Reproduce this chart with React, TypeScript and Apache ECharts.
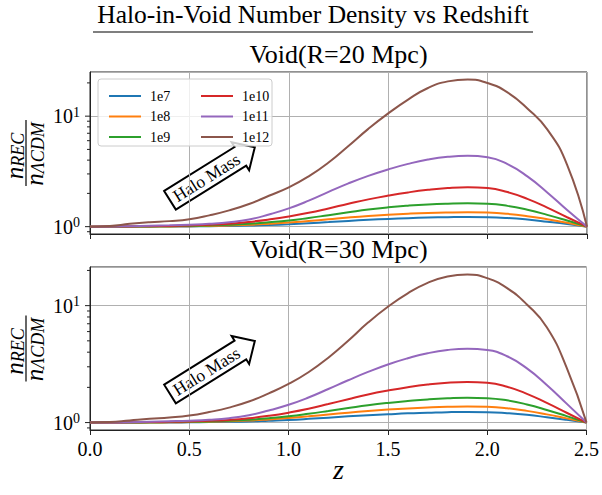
import React, { useEffect, useRef } from "react";
import * as echarts from "echarts";

const Z = [0, 0.1, 0.2, 0.3, 0.4, 0.5, 0.6, 0.7, 0.8, 0.9, 1.0, 1.1, 1.2, 1.3, 1.4, 1.5, 1.6, 1.7, 1.8, 1.9, 2.0, 2.1, 2.2, 2.3, 2.4, 2.5];

// Void R = 20 Mpc
const top1e7 = [1, 1, 1, 1.002, 1.002, 1.005, 1.009, 1.014, 1.023, 1.035, 1.052, 1.074, 1.099, 1.127, 1.153, 1.175, 1.194, 1.208, 1.219, 1.225, 1.219, 1.197, 1.159, 1.109, 1.057, 1];
const top1e8 = [1, 1, 1.002, 1.002, 1.005, 1.009, 1.016, 1.026, 1.04, 1.062, 1.089, 1.125, 1.167, 1.211, 1.25, 1.282, 1.309, 1.33, 1.343, 1.349, 1.34, 1.306, 1.245, 1.167, 1.084, 1];
const top1e9 = [1, 1, 1.002, 1.005, 1.009, 1.016, 1.026, 1.04, 1.062, 1.094, 1.135, 1.197, 1.271, 1.349, 1.429, 1.496, 1.549, 1.589, 1.614, 1.626, 1.611, 1.542, 1.422, 1.279, 1.135, 1];
const top1e10 = [1, 1.002, 1.005, 1.009, 1.016, 1.026, 1.04, 1.064, 1.104, 1.161, 1.236, 1.334, 1.462, 1.611, 1.766, 1.91, 2.042, 2.153, 2.234, 2.27, 2.234, 2.056, 1.786, 1.486, 1.216, 1];
const top1e11 = [1, 1.002, 1.009, 1.019, 1.028, 1.042, 1.062, 1.096, 1.161, 1.288, 1.462, 1.718, 2.065, 2.466, 2.884, 3.296, 3.698, 4.046, 4.285, 4.375, 4.246, 3.681, 2.851, 2.042, 1.413, 1];
const top1e12 = [1, 1.014, 1.06, 1.096, 1.122, 1.167, 1.265, 1.403, 1.603, 1.905, 2.265, 2.851, 3.802, 5.37, 7.674, 10.59, 14.13, 17.99, 20.65, 21.48, 19.95, 16.41, 11.75, 7.59, 3.63, 1];

// Void R = 30 Mpc
const bot1e7 = [1, 1, 1, 1.002, 1.002, 1.005, 1.009, 1.014, 1.023, 1.038, 1.054, 1.076, 1.102, 1.13, 1.156, 1.178, 1.199, 1.213, 1.227, 1.233, 1.227, 1.202, 1.164, 1.112, 1.057, 1];
const bot1e8 = [1, 1, 1.002, 1.002, 1.005, 1.009, 1.016, 1.026, 1.04, 1.064, 1.094, 1.13, 1.172, 1.216, 1.256, 1.291, 1.321, 1.346, 1.365, 1.374, 1.365, 1.327, 1.259, 1.175, 1.086, 1];
const bot1e9 = [1, 1, 1.002, 1.005, 1.009, 1.014, 1.023, 1.035, 1.057, 1.089, 1.132, 1.189, 1.256, 1.33, 1.406, 1.472, 1.528, 1.578, 1.614, 1.633, 1.618, 1.549, 1.429, 1.282, 1.135, 1];
const bot1e10 = [1, 1.002, 1.005, 1.009, 1.014, 1.023, 1.035, 1.054, 1.089, 1.143, 1.216, 1.312, 1.439, 1.585, 1.738, 1.879, 2.009, 2.118, 2.193, 2.223, 2.188, 2.023, 1.762, 1.472, 1.213, 1];
const bot1e11 = [1, 1.002, 1.007, 1.016, 1.026, 1.038, 1.057, 1.091, 1.156, 1.268, 1.419, 1.637, 1.936, 2.301, 2.71, 3.141, 3.548, 3.917, 4.178, 4.285, 4.178, 3.69, 2.904, 2.099, 1.452, 1];
const bot1e12 = [1, 1.009, 1.042, 1.076, 1.104, 1.148, 1.23, 1.343, 1.514, 1.778, 2.138, 2.692, 3.589, 5.012, 7.161, 9.772, 12.735, 15.668, 17.783, 18.493, 17.179, 14.125, 10.233, 6.531, 2.951, 1];

const NAMES = ["1e7", "1e8", "1e9", "1e10", "1e11", "1e12"];
const COLORS = ["#1f77b4", "#ff7f0e", "#2ca02c", "#d62728", "#9467bd", "#8c564b"];
const TOP_SERIES = [top1e7, top1e8, top1e9, top1e10, top1e11, top1e12];
const BOT_SERIES = [bot1e7, bot1e8, bot1e9, bot1e10, bot1e11, bot1e12];

const Y_MAJOR = [1, 10];
const Y_MINOR = [0.9, 2, 3, 4, 5, 6, 7, 8, 9, 20];
const TOP_Y_RANGE = [0.858, 25.1];
const BOT_Y_RANGE = [0.864, 21.4];

const TITLE = "Halo-in-Void Number Density vs Redshift";
const SUBTITLES = ["Void(R=20 Mpc)", "Void(R=30 Mpc)"];

const SERIF = "Liberation Serif";
const FRAME = "#222222";
const GRIDC = "#b0b0b0";

const GRIDS = [
  { left: 90, top: 72, width: 497, height: 162 },
  { left: 90, top: 267, width: 497, height: 163 },
];

const FRAC_RICH = {
  n: { fontSize: 25, fontStyle: "italic", fontFamily: SERIF, lineHeight: 20, verticalAlign: "bottom", color: "#000" },
  s: { fontSize: 18, fontStyle: "italic", fontFamily: SERIF, lineHeight: 10, verticalAlign: "bottom", color: "#000" },
};

function yLabelGroup(cx: number, cy: number) {
  return {
    type: "group",
    x: cx,
    y: cy,
    rotation: Math.PI / 2,
    children: [
      {
        type: "line",
        shape: { x1: -33, y1: 0, x2: 33, y2: 0 },
        style: { stroke: "#000", lineWidth: 1.2 },
      },
      {
        type: "text",
        x: -3,
        y: -9.5,
        style: { text: "{n|n}{s|REC}", align: "center", verticalAlign: "middle", rich: FRAC_RICH },
      },
      {
        type: "text",
        x: -1,
        y: 10.5,
        style: { text: "{n|n}{s|ΛCDM}", align: "center", verticalAlign: "middle", rich: FRAC_RICH },
      },
    ],
  };
}

function arrowGroup(x: number, y: number) {
  return {
    type: "group",
    x,
    y,
    rotation: (32 * Math.PI) / 180,
    z: 6,
    children: [
      {
        type: "polygon",
        shape: {
          points: [
            [0, -11],
            [83, -11],
            [83, -16.5],
            [100, 0],
            [83, 16.5],
            [83, 11],
            [0, 11],
          ],
        },
        style: { fill: "#fff", stroke: "#000", lineWidth: 2, lineJoin: "miter" },
      },
      {
        type: "text",
        x: 43,
        y: 0,
        style: {
          text: "Halo Mass",
          align: "center",
          verticalAlign: "middle",
          fontSize: 17.5,
          fontFamily: SERIF,
          fill: "#000",
        },
      },
    ],
  };
}

function tickSeries(idx: number) {
  const data = Y_MAJOR.map((v) => [0, v, 5]).concat(Y_MINOR.map((v) => [0, v, 3]));
  return {
    type: "custom",
    xAxisIndex: idx,
    yAxisIndex: idx,
    silent: true,
    clip: false,
    z: 5,
    data,
    renderItem: (params: any, api: any) => {
      const p = api.coord([api.value(0), api.value(1)]);
      const len = api.value(2);
      return {
        type: "line",
        shape: { x1: p[0] - len, y1: p[1], x2: p[0], y2: p[1] },
        style: { stroke: FRAME, lineWidth: 1 },
      };
    },
  };
}

export default function App() {
  const ref = useRef<HTMLDivElement>(null);
  useEffect(() => {
    if (!ref.current) return;
    const chart = echarts.init(ref.current, undefined, { renderer: "svg" });

    const xAxes = GRIDS.map((_, i) => ({
      type: "value",
      gridIndex: i,
      min: 0,
      max: 2.5,
      interval: 0.5,
      axisLine: { show: true, lineStyle: { color: FRAME, width: 1 } },
      axisTick: { show: true, length: 5, lineStyle: { color: FRAME, width: 1 } },
      axisLabel: {
        show: i === 1,
        fontSize: 20,
        fontFamily: SERIF,
        color: "#000",
        margin: 9,
        formatter: (v: number) => v.toFixed(1),
      },
      splitLine: { show: true, lineStyle: { color: GRIDC, width: 1 } },
    }));

    const yAxes = GRIDS.map((_, i) => {
      const r = i === 0 ? TOP_Y_RANGE : BOT_Y_RANGE;
      return {
        type: "log",
        logBase: 10,
        gridIndex: i,
        min: r[0],
        max: r[1],
        axisLine: { show: true, lineStyle: { color: FRAME, width: 1 } },
        axisTick: { show: false },
        axisLabel: {
          show: true,
          margin: 10,
          showMinLabel: false,
          showMaxLabel: false,
          formatter: (v: number) => {
            if (Math.abs(v - 1) < 1e-6) return "{b|10}{s|0}";
            if (Math.abs(v - 10) < 1e-6) return "{b|10}{s|1}";
            return "";
          },
          rich: {
            b: { fontSize: 20, fontFamily: SERIF, color: "#000", lineHeight: 22 },
            s: { fontSize: 14, fontFamily: SERIF, color: "#000", verticalAlign: "top", lineHeight: 14 },
          },
        },
        splitLine: { show: true, lineStyle: { color: GRIDC, width: 1 } },
      };
    });

    const lineSeries: any[] = [];
    [TOP_SERIES, BOT_SERIES].forEach((set, gi) => {
      set.forEach((arr, k) => {
        lineSeries.push({
          type: "line",
          name: NAMES[k],
          xAxisIndex: gi,
          yAxisIndex: gi,
          data: Z.map((z, j) => [z, arr[j]]),
          smooth: 0.5,
          symbol: "none",
          lineStyle: { width: 2, color: COLORS[k] },
          itemStyle: { color: COLORS[k] },
          z: 3,
        });
      });
    });

    const legendCommon = {
      orient: "vertical",
      top: 84,
      itemWidth: 32,
      itemHeight: 14,
      itemGap: 6.5,
      z: 10,
      selectedMode: false,
      itemStyle: { opacity: 0, borderWidth: 0 },
      lineStyle: { width: 2 },
      textStyle: { fontSize: 14, fontFamily: SERIF, color: "#000", padding: [0, 0, 0, 4], lineHeight: 14 },
    };

    const option: any = {
      animation: false,
      color: COLORS,
      textStyle: { fontFamily: SERIF },
      grid: GRIDS.map((g) => ({ ...g, show: true, borderColor: FRAME, borderWidth: 1, backgroundColor: "transparent" })),
      xAxis: xAxes,
      yAxis: yAxes,
      legend: [
        { ...legendCommon, left: 103, data: NAMES.slice(0, 3) },
        { ...legendCommon, left: 195, data: NAMES.slice(3) },
      ],
      series: [...lineSeries, tickSeries(0), tickSeries(1)],
      graphic: [
        {
          type: "rect",
          z: 8,
          shape: { x: 98, y: 79, width: 174, height: 67, r: 3 },
          style: { fill: "rgba(255,255,255,0.8)", stroke: "#cccccc", lineWidth: 1 },
        },
        {
          type: "text",
          x: 313,
          y: 14,
          style: { text: TITLE, align: "center", verticalAlign: "middle", fontSize: 25.5, fontFamily: SERIF, fill: "#000" },
        },
        {
          type: "line",
          shape: { x1: 93, y1: 32, x2: 533, y2: 32 },
          style: { stroke: "#000", lineWidth: 1.2 },
        },
        {
          type: "text",
          x: 338.5,
          y: 54,
          style: { text: SUBTITLES[0], align: "center", verticalAlign: "middle", fontSize: 26, fontFamily: SERIF, fill: "#000" },
        },
        {
          type: "text",
          x: 338.5,
          y: 249,
          style: { text: SUBTITLES[1], align: "center", verticalAlign: "middle", fontSize: 26, fontFamily: SERIF, fill: "#000" },
        },
        yLabelGroup(26, 153),
        yLabelGroup(26, 348.5),
        arrowGroup(170, 200.3),
        arrowGroup(170, 394),
        {
          type: "text",
          x: 338.5,
          y: 469,
          style: { text: "z", align: "center", verticalAlign: "middle", fontSize: 28, fontStyle: "italic", fontFamily: SERIF, fill: "#000" },
        },
      ],
    };

    chart.setOption(option);
    return () => chart.dispose();
  }, []);

  return <div ref={ref} style={{ width: 602, height: 495, position: "absolute", left: 0, top: 0 }} />;
}
